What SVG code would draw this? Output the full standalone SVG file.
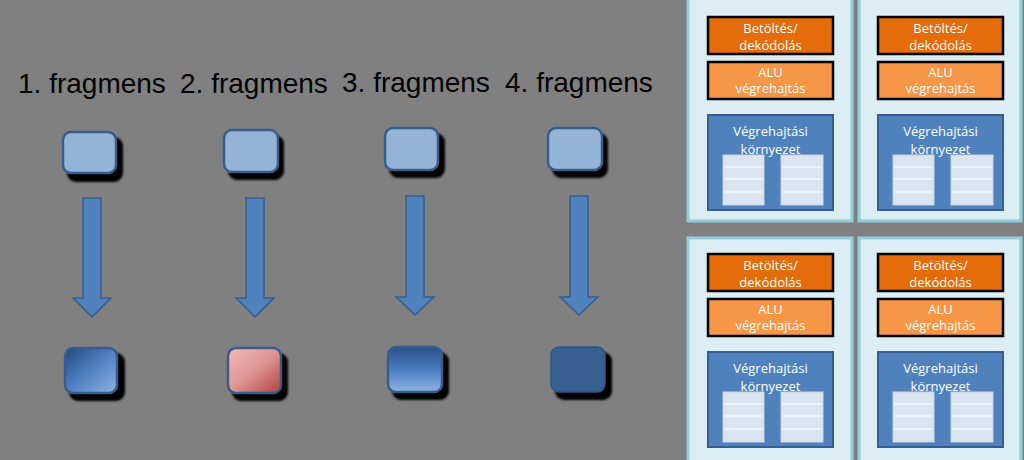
<svg xmlns="http://www.w3.org/2000/svg" width="1024" height="460" viewBox="0 0 1024 460">
<defs>
<style>
.lbl{font-family:"Liberation Sans",Arial,sans-serif;font-size:28px;fill:#000}
.wt{font-family:"Open Sans","Liberation Sans",sans-serif;font-size:13px;fill:#fff;text-anchor:middle}
.panel{fill:#dbeef4;stroke:#93cddd;stroke-width:3}
.b1{fill:#e46c0a;stroke:#000;stroke-width:2.5}
.b2{fill:#f79646;stroke:#000;stroke-width:2.5}
.env{fill:#4f81bd;stroke:#385d8a;stroke-width:2}
.tbl{fill:#dbe5f1;stroke:#c8d6ea;stroke-width:1}
.row{stroke:#f2f6fb;stroke-width:1.5}
.sq{stroke:#385d8a;stroke-width:2.5}
.shd{fill:#000;filter:url(#bl)}
.arr{fill:#4f81bd;stroke:#385d8a;stroke-width:1.5}
</style>
<filter id="bl" x="-20%" y="-20%" width="140%" height="140%"><feGaussianBlur stdDeviation="1.2"/></filter>
<linearGradient id="gB" x1="0" y1="0" x2="1" y2="1"><stop offset="0" stop-color="#24487a"/><stop offset="0.45" stop-color="#4a7cc0"/><stop offset="1" stop-color="#8db3e2"/></linearGradient>
<linearGradient id="gR" x1="0" y1="0" x2="1" y2="1"><stop offset="0" stop-color="#f2bcbb"/><stop offset="0.5" stop-color="#dc9594"/><stop offset="1" stop-color="#b8403d"/></linearGradient>
<linearGradient id="gV" x1="0" y1="0" x2="0" y2="1"><stop offset="0" stop-color="#2a5187"/><stop offset="0.5" stop-color="#4a7dc2"/><stop offset="1" stop-color="#8fb4e3"/></linearGradient>
<g id="core">
<rect class="b1" x="20" y="17" width="125" height="37"/>
<text class="wt" x="82.5" y="33">Betöltés/</text>
<text class="wt" x="82.5" y="50">dekódolás</text>
<rect class="b2" x="20" y="62" width="125" height="37"/>
<text class="wt" x="82.5" y="77">ALU</text>
<text class="wt" x="82.5" y="93">végrehajtás</text>
<rect class="env" x="20" y="115" width="125" height="95"/>
<text class="wt" x="82.5" y="136">Végrehajtási</text>
<rect class="tbl" x="35" y="155" width="41" height="50"/>
<line class="row" x1="36" y1="167" x2="75" y2="167"/><line class="row" x1="36" y1="179" x2="75" y2="179"/><line class="row" x1="36" y1="192" x2="75" y2="192"/>
<rect class="tbl" x="93" y="155" width="42" height="50"/>
<line class="row" x1="94" y1="167" x2="134" y2="167"/><line class="row" x1="94" y1="179" x2="134" y2="179"/><line class="row" x1="94" y1="192" x2="134" y2="192"/>
<text class="wt" x="82.5" y="154">környezet</text>
</g>
</defs>
<rect x="0" y="0" width="1024" height="460" fill="#808080"/>

<g id="labels">
<text class="lbl" x="18" y="93">1. fragmens</text>
<text class="lbl" x="180" y="93">2. fragmens</text>
<text class="lbl" x="342" y="92">3. fragmens</text>
<text class="lbl" x="505" y="92">4. fragmens</text>
</g>

<g id="in1"><rect class="shd" x="67" y="137" width="56" height="45" rx="9"/><rect class="sq" x="63" y="132" width="53" height="41" rx="8" fill="#95b3d7"/></g>
<g id="in2"><rect class="shd" x="228" y="135" width="56" height="45" rx="9"/><rect class="sq" x="224" y="130" width="54" height="42" rx="8" fill="#95b3d7"/></g>
<g id="in3"><rect class="shd" x="389" y="133" width="56" height="45" rx="9"/><rect class="sq" x="385" y="128" width="53" height="42" rx="8" fill="#95b3d7"/></g>
<g id="in4"><rect class="shd" x="552" y="133" width="56" height="45" rx="9"/><rect class="sq" x="548" y="128" width="54" height="42" rx="8" fill="#95b3d7"/></g>

<g id="connectors">
<polygon class="arr" points="83,198 101,198 101,298 111,298 92,317 73,298 83,298"/>
<polygon class="arr" points="246,198 264,198 264,298 274,298 255,317 236,298 246,298"/>
<polygon class="arr" points="406,196 424,196 424,297 434,297 415,315 396,297 406,297"/>
<polygon class="arr" points="570,196 588,196 588,297 598,297 579,315 560,297 570,297"/>
</g>

<g id="out1"><rect class="shd" x="69" y="353" width="56" height="48" rx="9"/><rect class="sq" x="65" y="348" width="52" height="45" rx="8" fill="url(#gB)"/></g>
<g id="out2"><rect class="shd" x="232" y="353" width="56" height="48" rx="9"/><rect class="sq" x="228" y="348" width="53" height="45" rx="8" fill="url(#gR)"/></g>
<g id="out3"><rect class="shd" x="392" y="352" width="57" height="48" rx="9"/><rect class="sq" x="388" y="347" width="54" height="45" rx="8" fill="url(#gV)"/></g>
<g id="out4"><rect class="shd" x="555" y="352" width="57" height="48" rx="9"/><rect x="551" y="347" width="54" height="45" rx="8" fill="#376092" stroke="#2f5485" stroke-width="1.5"/></g>

<g id="unit1"><rect class="panel" x="688" y="-3" width="164" height="224"/><use href="#core" transform="translate(688,0)"/></g>
<g id="unit2"><rect class="panel" x="859" y="-3" width="162" height="224"/><use href="#core" transform="translate(858,0)"/></g>
<g id="unit3"><rect class="panel" x="688" y="238" width="164" height="225"/><use href="#core" transform="translate(688,237)"/></g>
<g id="unit4"><rect class="panel" x="859" y="238" width="162" height="225"/><use href="#core" transform="translate(858,237)"/></g>
</svg>
